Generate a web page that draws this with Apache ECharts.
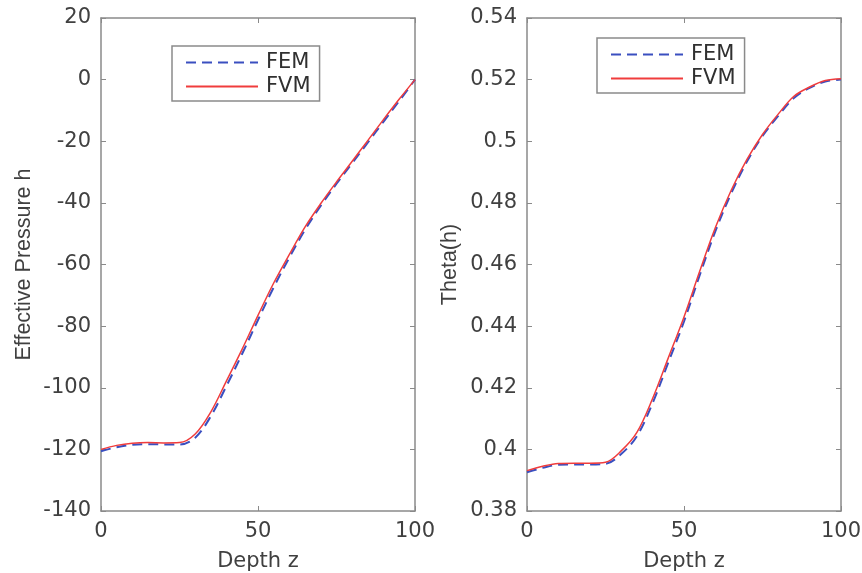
<!DOCTYPE html>
<html>
<head>
<meta charset="utf-8">
<script src="https://cdn.jsdelivr.net/npm/echarts@6/dist/echarts.min.js"></script>
<style>
html,body{margin:0;padding:0;background:#fff;}
#c{width:862px;height:573px;}
</style>
</head>
<body>
<div id="c"></div>
<script>
const depth = [0,5,10,15,20,25,30,35,40,45,50,55,60,65,70,75,80,85,90,95,100];
const pressureFEM = [-120.6,-119.3,-118.5,-118.3,-118.4,-118.4,-116.2,-109.2,-99.3,-88.9,-78,-67.4,-57.7,-48.7,-40.9,-33.8,-27.1,-20.4,-13.6,-6.9,0];
const pressureFVM = [-120,-118.7,-118,-117.8,-117.9,-117.8,-115,-107.8,-97.7,-87.4,-76.5,-66,-56.7,-47.8,-40.2,-33.2,-26.5,-19.7,-12.9,-6.3,0];
const thetaFEM = [0.3926,0.3940,0.3950,0.3951,0.3951,0.3953,0.3985,0.4043,0.4150,0.4282,0.4415,0.4565,0.4708,0.4830,0.4933,0.5017,0.5082,0.5140,0.5173,0.5194,0.5200];
const thetaFVM = [0.3931,0.3945,0.3954,0.3955,0.3955,0.3958,0.3995,0.4055,0.4165,0.4297,0.4430,0.4578,0.4720,0.4840,0.4940,0.5022,0.5088,0.5146,0.5176,0.5197,0.5203];
const seriesNames = ['FEM','FVM'];
const xTitle = 'Depth z';
const yTitles = ['Effective Pressure h','Theta(h)'];

const axisColor = '#8a8a8a';
const labelColor = '#404040';
const hFont = 'DejaVu Sans';
const vFont = 'Liberation Sans';

function pairs(xs, ys){ return xs.map((x,i)=>[x, ys[i]]); }

function mainX(grid){
  return {
    type:'value', gridIndex:grid, position:'bottom', min:0, max:100, interval:50,
    name: xTitle, nameLocation:'middle', nameGap:40,
    nameTextStyle:{color:labelColor, fontFamily:hFont, fontSize:21},
    axisLine:{show:true, onZero:false, lineStyle:{color:axisColor, width:1.5}},
    axisTick:{show:true, inside:true, length:5, lineStyle:{color:axisColor}},
    axisLabel:{color:labelColor, fontFamily:hFont, fontSize:21, margin:10},
    splitLine:{show:false}
  };
}
function topX(grid){
  return {
    type:'value', gridIndex:grid, position:'top', min:0, max:100, interval:50,
    axisLine:{show:true, onZero:false, lineStyle:{color:axisColor, width:1.5}},
    axisTick:{show:true, inside:true, length:5, lineStyle:{color:axisColor}},
    axisLabel:{show:false}, splitLine:{show:false}
  };
}
function mainY(grid, min, max, interval, name, gap, fmt){
  return {
    type:'value', gridIndex:grid, position:'left', min:min, max:max, interval:interval,
    name:name, nameLocation:'middle', nameGap:gap, nameRotate:90,
    nameTextStyle:{color:labelColor, fontFamily:vFont, fontSize:21.5},
    axisLine:{show:true, onZero:false, lineStyle:{color:axisColor, width:1.5}},
    axisTick:{show:true, inside:true, length:5, lineStyle:{color:axisColor}},
    axisLabel:{color:labelColor, fontFamily:hFont, fontSize:21, margin:10, formatter:fmt},
    splitLine:{show:false}
  };
}
function rightY(grid, min, max, interval){
  return {
    type:'value', gridIndex:grid, position:'right', min:min, max:max, interval:interval,
    axisLine:{show:true, onZero:false, lineStyle:{color:axisColor, width:1.5}},
    axisTick:{show:true, inside:true, length:5, lineStyle:{color:axisColor}},
    axisLabel:{show:false}, splitLine:{show:false}
  };
}
function feSeries(xi, yi, data){
  return {name:seriesNames[0], type:'line', xAxisIndex:xi, yAxisIndex:yi, data:data,
    symbol:'none', smooth:0.35, lineStyle:{color:'#3a4fc0', width:2, type:[10,6]},
    itemStyle:{color:'#3a4fc0'}, z:2};
}
function fvSeries(xi, yi, data){
  return {name:seriesNames[1], type:'line', xAxisIndex:xi, yAxisIndex:yi, data:data,
    symbol:'none', smooth:0.35, lineStyle:{color:'#f03c3c', width:1.5},
    itemStyle:{color:'#f03c3c'}, z:3};
}
function legendAt(left, top){
  return {
    left:left, top:top, orient:'vertical', data:seriesNames,
    itemWidth:72, itemHeight:14, itemGap:3,
    itemStyle:{opacity:0},
    padding:[6,9,4,13],
    borderColor:axisColor, borderWidth:1.5, backgroundColor:'#fff',
    textStyle:{color:'#303030', fontFamily:hFont, fontSize:21, padding:[0,0,0,3]}
  };
}

const chart = echarts.init(document.getElementById('c'), null, {renderer:'canvas'});
chart.setOption({
  backgroundColor:'#fff',
  animation:false,
  grid:[
    {left:101, right:447, top:18, bottom:62, outerBoundsMode:'none', containLabel:false},
    {left:527, right:21, top:18, bottom:62, outerBoundsMode:'none', containLabel:false}
  ],
  xAxis:[mainX(0), topX(0), mainX(1), topX(1)],
  yAxis:[
    mainY(0,-140,20,20,yTitles[0],66, v=>String(v)),
    rightY(0,-140,20,20),
    mainY(1,0.38,0.54,0.02,yTitles[1],66, v=>String(+v.toFixed(2))),
    rightY(1,0.38,0.54,0.02)
  ],
  legend:[legendAt(172,46), legendAt(597,38)],
  series:[
    feSeries(0,0,pairs(depth,pressureFEM)),
    fvSeries(0,0,pairs(depth,pressureFVM)),
    feSeries(2,2,pairs(depth,thetaFEM)),
    fvSeries(2,2,pairs(depth,thetaFVM))
  ]
});
</script>
</body>
</html>
